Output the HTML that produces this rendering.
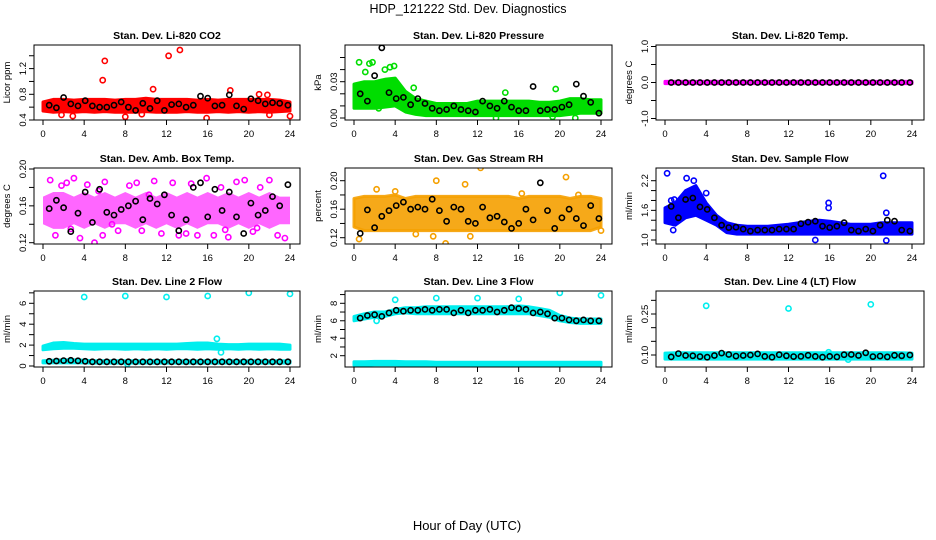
<!DOCTYPE html>
<html><head><meta charset="utf-8">
<style>
html,body{margin:0;padding:0;background:#fff;}
svg{display:block;font-family:"Liberation Sans",sans-serif;}
.t{font-size:10.5px;font-weight:bold;}
.tk{font-size:9.5px;}
</style></head>
<body>
<svg id="chart" width="936" height="540" viewBox="0 0 936 540">
<text x="468" y="13" text-anchor="middle" font-size="12.5">HDP_121222  Std. Dev. Diagnostics</text>
<text x="467" y="530" text-anchor="middle" font-size="13">Hour of Day (UTC)</text>
</svg>
<script>
const hours = [0,1,2,3,4,5,6,7,8,9,10,11,12,13,14,15,16,17,18,19,20,21,22,23,24];
const blackX = [0.6,1.3,2.0,2.7,3.4,4.1,4.8,5.5,6.2,6.9,7.6,8.3,9.0,9.7,10.4,11.1,11.8,12.5,13.2,13.9,14.6,15.3,16.0,16.7,17.4,18.1,18.8,19.5,20.2,20.9,21.6,22.3,23.0,23.8];
const xTickLabels = [0,4,8,12,16,20,24];

// Panel 1 CO2
const p1Lo = [0.54,0.52,0.53,0.52,0.53,0.52,0.53,0.52,0.52,0.52,0.53,0.52,0.52,0.52,0.53,0.52,0.52,0.53,0.52,0.53,0.52,0.53,0.52,0.53,0.54];
const p1Hi = [0.68,0.72,0.72,0.71,0.72,0.72,0.72,0.71,0.72,0.72,0.74,0.72,0.72,0.72,0.72,0.71,0.72,0.71,0.72,0.72,0.72,0.72,0.72,0.71,0.68];
const p1OutX = [5.8,6.0,12.2,13.3,10.7,18.2,21.0,21.8,8.0,15.9,24.0,2.9,9.6,1.8,22.0];
const p1OutY = [1.02,1.32,1.40,1.49,0.88,0.86,0.80,0.79,0.45,0.43,0.46,0.46,0.49,0.48,0.48];
const p1Black = [0.63,0.59,0.75,0.65,0.62,0.70,0.62,0.60,0.60,0.63,0.68,0.60,0.55,0.66,0.58,0.70,0.55,0.64,0.65,0.60,0.63,0.77,0.74,0.62,0.63,0.79,0.62,0.57,0.73,0.70,0.65,0.67,0.66,0.63];
// Panel 2 Pressure
const p2Lo = [0.008,0.008,0.008,0.009,0.010,0.005,0.003,0.002,0.002,0.002,0.002,0.002,0.002,0.002,0.002,0.002,0.002,0.002,0.002,0.002,0.002,0.003,0.004,0.004,0.004];
const p2Hi = [0.028,0.030,0.030,0.032,0.033,0.022,0.016,0.014,0.012,0.012,0.012,0.012,0.014,0.014,0.014,0.014,0.014,0.014,0.013,0.013,0.014,0.016,0.016,0.015,0.015];
const p2OutX = [0.5,1.5,1.8,1.1,3.5,3.9,2.4,13.8,19.3,21.5,14.7,19.6,5.8,3.0];
const p2OutY = [0.046,0.045,0.046,0.038,0.042,0.043,0.008,0.000,0.001,0.000,0.021,0.024,0.025,0.040];
const p2Black = [0.020,0.014,0.035,0.058,0.021,0.016,0.017,0.011,0.016,0.012,0.008,0.006,0.007,0.010,0.007,0.006,0.005,0.014,0.010,0.008,0.014,0.009,0.006,0.006,0.026,0.006,0.007,0.007,0.009,0.011,0.028,0.018,0.013,0.004];
// Panel 3 Temp
const p3Lo = [-0.03,-0.03,-0.03,-0.03,-0.03,-0.03,-0.03,-0.03,-0.03,-0.03,-0.03,-0.03,-0.03,-0.03,-0.03,-0.03,-0.03,-0.03,-0.03,-0.03,-0.03,-0.03,-0.03,-0.03,-0.03];
const p3Hi = [0.03,0.03,0.03,0.03,0.03,0.03,0.03,0.03,0.03,0.03,0.03,0.03,0.03,0.03,0.03,0.03,0.03,0.03,0.03,0.03,0.03,0.03,0.03,0.03,0.03];
const p3Black = [0,0,0,0,0,0,0,0,0,0,0,0,0,0,0,0,0,0,0,0,0,0,0,0,0,0,0,0,0,0,0,0,0,0];
// Panel 4 Amb box temp
const p4Lo = [0.14,0.135,0.135,0.14,0.135,0.14,0.135,0.14,0.14,0.135,0.14,0.135,0.14,0.135,0.14,0.135,0.14,0.14,0.135,0.14,0.135,0.14,0.135,0.14,0.14];
const p4Hi = [0.17,0.175,0.175,0.17,0.175,0.17,0.175,0.17,0.175,0.17,0.175,0.17,0.175,0.17,0.175,0.17,0.175,0.17,0.175,0.17,0.175,0.17,0.175,0.17,0.17];
const p4OutX = [0.7,1.2,1.8,2.3,3.0,3.6,4.3,5.0,5.4,6.0,6.7,7.3,8.4,9.1,10.3,10.8,11.5,12.6,13.9,14.4,15.0,15.9,16.6,17.3,18.0,18.8,19.6,20.4,21.1,22.0,22.8,23.5,2.7,5.8,9.6,13.2,17.7,20.8];
const p4OutY = [0.188,0.128,0.182,0.185,0.19,0.125,0.183,0.12,0.176,0.186,0.14,0.133,0.182,0.185,0.172,0.187,0.13,0.185,0.13,0.184,0.128,0.19,0.128,0.18,0.126,0.186,0.188,0.132,0.18,0.188,0.128,0.125,0.135,0.128,0.133,0.128,0.134,0.136];
const p4Black = [0.157,0.166,0.158,0.132,0.152,0.175,0.142,0.178,0.153,0.150,0.156,0.160,0.165,0.145,0.168,0.162,0.172,0.150,0.133,0.145,0.180,0.185,0.148,0.178,0.155,0.175,0.148,0.130,0.163,0.150,0.155,0.170,0.160,0.183];
// Panel 5 Gas stream RH
const p5Lo = [0.135,0.13,0.13,0.13,0.13,0.13,0.13,0.13,0.13,0.13,0.13,0.13,0.13,0.13,0.13,0.13,0.13,0.13,0.13,0.13,0.13,0.13,0.13,0.13,0.135];
const p5Hi = [0.175,0.178,0.178,0.178,0.18,0.175,0.178,0.178,0.178,0.178,0.178,0.178,0.178,0.178,0.178,0.178,0.175,0.178,0.178,0.178,0.178,0.175,0.178,0.178,0.175];
const p5OutX = [0.5,8.0,8.9,10.8,11.3,12.3,20.6,4.0,6.0,7.7,16.3,21.8,24.0,2.2];
const p5OutY = [0.118,0.200,0.112,0.195,0.122,0.218,0.205,0.185,0.125,0.122,0.182,0.180,0.130,0.188];
const p5Black = [0.126,0.159,0.134,0.150,0.158,0.165,0.170,0.160,0.163,0.160,0.174,0.158,0.143,0.163,0.160,0.143,0.140,0.163,0.148,0.150,0.142,0.133,0.140,0.160,0.145,0.197,0.158,0.133,0.148,0.160,0.147,0.137,0.165,0.147];
// Panel 6 Sample flow
const p6Lo = [1.35,1.30,1.45,1.50,1.40,1.30,1.15,1.12,1.12,1.12,1.12,1.12,1.12,1.12,1.12,1.12,1.12,1.12,1.12,1.12,1.12,1.12,1.12,1.12,1.12];
const p6Hi = [1.65,1.75,2.00,2.10,1.75,1.50,1.35,1.30,1.28,1.28,1.28,1.30,1.32,1.35,1.38,1.40,1.38,1.35,1.32,1.32,1.32,1.35,1.35,1.35,1.35];
const p6OutX = [0.2,21.2,2.1,2.8,15.9,15.9,21.5,0.8,14.6,21.5,1.9,4.0,0.6,0.9];
const p6OutY = [2.35,2.30,2.25,2.20,1.75,1.65,1.55,1.20,1.00,0.99,1.85,1.95,1.80,1.82];
const p6Black = [1.68,1.45,1.82,1.85,1.67,1.62,1.45,1.30,1.25,1.26,1.22,1.18,1.20,1.20,1.20,1.22,1.22,1.22,1.33,1.36,1.38,1.28,1.25,1.28,1.35,1.20,1.18,1.22,1.18,1.30,1.40,1.38,1.20,1.18];
// Panel 7 Line 2 flow
const p7Lo = [1.55,1.65,1.70,1.70,1.65,1.60,1.65,1.65,1.60,1.65,1.60,1.65,1.60,1.65,1.65,1.60,1.65,1.60,1.65,1.60,1.65,1.60,1.65,1.60,1.60];
const p7Hi = [1.90,2.20,2.25,2.15,2.10,2.10,2.10,2.10,2.10,2.10,2.10,2.10,2.10,2.10,2.15,2.20,2.20,2.10,2.05,2.05,2.10,2.10,2.10,2.10,2.00];
const p7Lo2 = [0.30,0.30,0.30,0.30,0.30,0.28,0.28,0.28,0.28,0.28,0.28,0.28,0.28,0.28,0.28,0.28,0.28,0.28,0.28,0.28,0.28,0.28,0.28,0.28,0.28];
const p7Hi2 = [0.50,0.55,0.60,0.60,0.55,0.50,0.50,0.50,0.50,0.50,0.50,0.50,0.50,0.50,0.50,0.50,0.50,0.50,0.50,0.50,0.50,0.50,0.50,0.50,0.50];
const p7OutX = [4,8,12,16,20,24,16.9,17.3,8.2];
const p7OutY = [6.6,6.7,6.6,6.7,7.0,6.9,2.6,1.3,0.2];
const p7Black = [0.45,0.48,0.52,0.55,0.50,0.45,0.40,0.40,0.40,0.40,0.40,0.40,0.40,0.40,0.40,0.40,0.40,0.40,0.40,0.40,0.40,0.40,0.40,0.40,0.40,0.40,0.40,0.40,0.40,0.40,0.40,0.40,0.40,0.40];
// Panel 8 Line 3 flow
const p8Lo = [6.0,6.2,6.4,6.5,6.8,6.9,6.8,6.8,6.8,6.8,6.8,6.8,6.8,6.8,6.8,6.8,6.8,6.8,6.6,6.4,6.0,5.8,5.7,5.7,5.7];
const p8Hi = [6.5,6.8,7.0,7.0,7.3,7.5,7.5,7.6,7.6,7.6,7.6,7.6,7.6,7.6,7.6,7.6,7.7,7.6,7.4,7.2,6.6,6.3,6.2,6.2,6.2];
const p8Lo2 = [0.9,0.9,0.95,0.95,0.95,0.9,0.9,0.9,0.9,0.9,0.9,0.9,0.9,0.9,0.9,0.9,0.9,0.9,0.9,0.9,0.9,0.9,0.9,0.9,0.9];
const p8Hi2 = [1.3,1.3,1.35,1.35,1.35,1.3,1.3,1.3,1.25,1.25,1.25,1.25,1.25,1.25,1.25,1.25,1.25,1.25,1.25,1.25,1.25,1.25,1.25,1.25,1.25];
const p8OutX = [4,8,12,16,20,24,2.2];
const p8OutY = [8.4,8.6,8.6,8.5,9.2,8.9,6.0];
const p8Black = [6.3,6.6,6.7,6.5,6.9,7.2,7.1,7.2,7.2,7.3,7.2,7.3,7.3,6.9,7.2,6.9,7.2,7.2,7.3,7.0,7.2,7.5,7.4,7.3,6.9,7.0,6.8,6.3,6.3,6.1,6.0,6.1,6.0,6.0];
// Panel 9 Line 4 (LT) flow
const p9Lo = [0.085,0.085,0.085,0.085,0.085,0.085,0.085,0.085,0.085,0.085,0.085,0.085,0.085,0.085,0.085,0.085,0.085,0.085,0.085,0.085,0.085,0.085,0.085,0.085,0.085];
const p9Hi = [0.107,0.108,0.108,0.108,0.108,0.108,0.108,0.108,0.108,0.108,0.108,0.108,0.108,0.108,0.108,0.108,0.108,0.108,0.108,0.108,0.108,0.108,0.108,0.108,0.107];
const p9OutX = [4,12,20,15.9,17.8];
const p9OutY = [0.280,0.270,0.285,0.110,0.083];
const p9Black = [0.093,0.105,0.098,0.097,0.094,0.092,0.098,0.107,0.102,0.096,0.098,0.100,0.104,0.095,0.092,0.101,0.097,0.094,0.095,0.099,0.095,0.092,0.095,0.093,0.101,0.102,0.098,0.108,0.094,0.096,0.093,0.099,0.097,0.100];

const NS = 'http://www.w3.org/2000/svg';
const svg = document.getElementById('chart');
function mk(tag, attrs, parent){const e=document.createElementNS(NS,tag);for(const k in attrs)e.setAttribute(k,attrs[k]);(parent||svg).appendChild(e);return e;}

const colL=[34,345,656], colR=[300,612,924];
const rowT=[45,168,291], rowB=[120,244,367];

const panels = [
 {name:'co2',title:'Stan. Dev. Li-820 CO2',ylab:'Licor ppm',c:0,r:0,v0:0.4,y0:120,v1:1.2,y1:68.6,ticks:[0.4,0.6,0.8,1.0,1.2,1.4],labs:[0.4,0.8,1.2],dec:1,col:'#ff0000',bands:[[p1Lo,p1Hi]],ox:p1OutX,oy:p1OutY,bk:p1Black},
 {name:'pressure',title:'Stan. Dev. Li-820 Pressure',ylab:'kPa',c:1,r:0,v0:0,y0:118,v1:0.03,y1:81.7,ticks:[0,0.01,0.02,0.03,0.04,0.05],labs:[0,0.03],dec:2,col:'#00dd00',bands:[[p2Lo,p2Hi]],ox:p2OutX,oy:p2OutY,bk:p2Black},
 {name:'temp',title:'Stan. Dev. Li-820 Temp.',ylab:'degrees C',c:2,r:0,v0:-1,y0:118.5,v1:1,y1:46.5,ticks:[-1,-0.5,0,0.5,1],labs:[-1,0,1],dec:1,col:'#ff00ff',bands:[[p3Lo,p3Hi]],ox:[],oy:[],bk:p3Black},
 {name:'amb-box-temp',title:'Stan. Dev. Amb. Box Temp.',ylab:'degrees C',c:0,r:1,v0:0.12,y0:242.7,v1:0.20,y1:169,ticks:[0.12,0.14,0.16,0.18,0.20],labs:[0.12,0.16,0.20],dec:2,col:'#ff00ff',bands:[[p4Lo,p4Hi]],bandOp:0.6,sw:0,ox:p4OutX,oy:p4OutY,bk:p4Black},
 {name:'gas-stream-rh',title:'Stan. Dev. Gas Stream RH',ylab:'percent',c:1,r:1,v0:0.12,y0:237.7,v1:0.20,y1:180.7,ticks:[0.12,0.14,0.16,0.18,0.20],labs:[0.12,0.16,0.20],dec:2,col:'#f5a000',bands:[[p5Lo,p5Hi]],bandOp:0.9,ox:p5OutX,oy:p5OutY,bk:p5Black},
 {name:'sample-flow',title:'Stan. Dev. Sample Flow',ylab:'ml/min',c:2,r:1,v0:1.0,y0:240,v1:2.2,y1:180.7,ticks:[1.0,1.2,1.4,1.6,1.8,2.0,2.2],labs:[1.0,1.6,2.2],dec:1,col:'#0000ff',bands:[[p6Lo,p6Hi]],ox:p6OutX,oy:p6OutY,bk:p6Black},
 {name:'line2-flow',title:'Stan. Dev. Line 2 Flow',ylab:'ml/min',c:0,r:2,v0:0,y0:366,v1:6,y1:303.3,ticks:[0,1,2,3,4,5,6,7],labs:[0,2,4,6],dec:0,col:'#00eeee',bands:[[p7Lo,p7Hi],[p7Lo2,p7Hi2]],ox:p7OutX,oy:p7OutY,bk:p7Black},
 {name:'line3-flow',title:'Stan. Dev. Line 3 Flow',ylab:'ml/min',c:1,r:2,v0:2,y0:355.7,v1:8,y1:303.3,ticks:[2,3,4,5,6,7,8,9],labs:[2,4,6,8],dec:0,col:'#00eeee',bands:[[p8Lo,p8Hi],[p8Lo2,p8Hi2]],ox:p8OutX,oy:p8OutY,bk:p8Black},
 {name:'line4-lt-flow',title:'Stan. Dev. Line 4 (LT) Flow',ylab:'ml/min',c:2,r:2,v0:0.10,y0:355,v1:0.25,y1:314,ticks:[0.10,0.15,0.20,0.25,0.30],labs:[0.10,0.25],dec:2,col:'#00eeee',bands:[[p9Lo,p9Hi]],ox:p9OutX,oy:p9OutY,bk:p9Black}
];

panels.forEach(p=>{
  const L=colL[p.c], R=colR[p.c], T=rowT[p.r], B=rowB[p.r];
  const xs = h => L+9 + h*(247/24);
  const ys = v => p.y0 + (v-p.v0)*(p.y1-p.y0)/(p.v1-p.v0);
  const g = mk('g',{});
  
  
  const cp = mk('clipPath',{id:'clip-'+p.name},g);
  mk('rect',{x:L,y:T,width:R-L,height:B-T},cp);
  const plot = mk('g',{'clip-path':'url(#clip-'+p.name+')'},g);
  p.bands.forEach((b,bi)=>{
    let d='';
    hours.forEach((h,i)=>{d+=(i?'L':'M')+xs(h).toFixed(1)+','+ys(b[1][i]).toFixed(1);});
    for(let i=hours.length-1;i>=0;i--){d+='L'+xs(hours[i]).toFixed(1)+','+ys(b[0][i]).toFixed(1);}
    const sw = (p.sw===undefined)?3:p.sw;
    const band = mk('path',{d:d+'Z',fill:p.col,stroke:sw?p.col:'none','stroke-width':sw,'stroke-linejoin':'round','fill-opacity':p.bandOp||1,'stroke-opacity':p.bandOp||1},plot);
    
    
  });
  p.ox.forEach((x,i)=>{
    const c = mk('circle',{cx:xs(x).toFixed(1),cy:ys(p.oy[i]).toFixed(1),r:2.6,fill:'none',stroke:p.col,'stroke-width':1.6},plot);
    
    
  });
  p.bk.forEach((v,i)=>{
    const c = mk('circle',{cx:xs(blackX[i]).toFixed(1),cy:ys(v).toFixed(1),r:2.6,fill:'none',stroke:'#000','stroke-width':1.6},plot);
    
    
  });
  const box = mk('rect',{x:L,y:T,width:R-L,height:B-T,fill:'none',stroke:'#000','stroke-width':1},g);
  
  
  const tt = mk('text',{x:(L+R)/2,y:T-6,'text-anchor':'middle',class:'t'},g);
  tt.textContent = p.title;
  
  
  mk('line',{x1:xs(0),x2:xs(24),y1:B,y2:B,stroke:'#000'},g);
  xTickLabels.forEach(h=>{
    mk('line',{x1:xs(h),x2:xs(h),y1:B,y2:B+5,stroke:'#000'},g);
    const t = mk('text',{x:xs(h),y:B+17,'text-anchor':'middle',class:'tk'},g);
    t.textContent = h;
    
    
  });
  const ty=p.ticks.map(ys).filter(y=>y>=T-0.5&&y<=B+0.5);
  if(ty.length) mk('line',{x1:L,x2:L,y1:Math.min(...ty),y2:Math.max(...ty),stroke:'#000'},g);
  p.ticks.forEach(v=>{const y=ys(v); if(y<T-0.5||y>B+0.5) return; mk('line',{x1:L-5,x2:L,y1:y,y2:y,stroke:'#000'},g);});
  p.labs.forEach(v=>{
    const y=ys(v);
    const t = mk('text',{x:L-8,y:y,'text-anchor':'middle',class:'tk',transform:'rotate(-90 '+(L-8)+' '+y+')'},g);
    t.textContent = v.toFixed(p.dec);
    
    
  });
  const yl = mk('text',{x:L-24,y:(T+B)/2,'text-anchor':'middle',class:'tk',transform:'rotate(-90 '+(L-24)+' '+((T+B)/2)+')'},g);
  yl.textContent = p.ylab;
  
  
});
</script>
</body></html>
